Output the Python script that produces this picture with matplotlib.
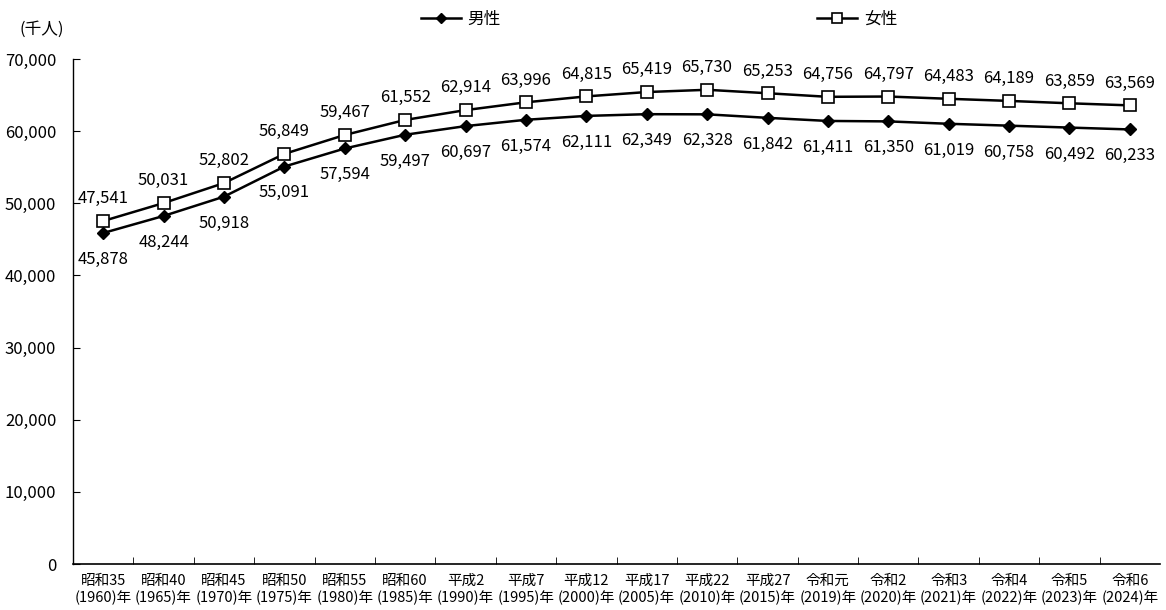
import numpy as np
import matplotlib
matplotlib.use('Agg')
import matplotlib.pyplot as plt
from matplotlib.ticker import FuncFormatter, FixedLocator

matplotlib.rcParams['font.family'] = ['Noto Sans CJK JP', 'DejaVu Sans']

# データ（千人）
era_labels = ['昭和35', '昭和40', '昭和45', '昭和50', '昭和55', '昭和60', '平成2', '平成7',
              '平成12', '平成17', '平成22', '平成27', '令和元', '令和2', '令和3', '令和4',
              '令和5', '令和6']
years = ['1960', '1965', '1970', '1975', '1980', '1985', '1990', '1995', '2000', '2005',
         '2010', '2015', '2019', '2020', '2021', '2022', '2023', '2024']
male = [45878, 48244, 50918, 55091, 57594, 59497, 60697, 61574, 62111, 62349,
        62328, 61842, 61411, 61350, 61019, 60758, 60492, 60233]
female = [47541, 50031, 52802, 56849, 59467, 61552, 62914, 63996, 64815, 65419,
          65730, 65253, 64756, 64797, 64483, 64189, 63859, 63569]

x = np.arange(len(male))

fig = plt.figure(figsize=(11.66, 6.10), dpi=100)
ax = fig.add_axes([0.0626, 0.0754, 0.9323, 0.8279])

ax.plot(x, male, color='black', lw=1.8, marker='D', markersize=6,
        markerfacecolor='black', label='男性')
ax.plot(x, female, color='black', lw=1.8, marker='s', markersize=8,
        markerfacecolor='white', markeredgewidth=1.2, label='女性')

for i in range(len(x)):
    ax.annotate(f'{female[i]:,}', (x[i], female[i]), xytext=(0, 16),
                textcoords='offset points', ha='center', va='center', fontsize=12)
    ax.annotate(f'{male[i]:,}', (x[i], male[i]), xytext=(0, -19),
                textcoords='offset points', ha='center', va='center', fontsize=12)

ax.set_xlim(-0.5, len(x) - 0.5)
ax.set_ylim(0, 70000)
ax.set_yticks(np.arange(0, 70001, 10000))
ax.yaxis.set_major_formatter(FuncFormatter(lambda v, p: f'{int(v):,}'))
ax.tick_params(axis='y', direction='in', length=5, labelsize=12, pad=12)

ax.set_xticks(x)
ax.set_xticklabels([f'{e}\n({y})年' for e, y in zip(era_labels, years)], fontsize=10.5)
ax.tick_params(axis='x', which='major', length=0, pad=7)
ax.xaxis.set_minor_locator(FixedLocator(np.arange(0.5, len(x) - 0.5, 1.0)))
ax.tick_params(axis='x', which='minor', direction='in', length=5)

ax.spines['top'].set_visible(False)
ax.spines['right'].set_visible(False)
ax.spines['left'].set_linewidth(1.0)
ax.spines['bottom'].set_linewidth(1.2)

fig.text(0.017, 0.952, '(千人)', fontsize=12, va='center')

fig.legend(loc='center', bbox_to_anchor=(0.565, 0.968), ncol=2, frameon=False,
           fontsize=12, columnspacing=19, handlelength=2.4, handletextpad=0.4,
           markerscale=0.85)

fig.savefig('out.png', dpi=100)
